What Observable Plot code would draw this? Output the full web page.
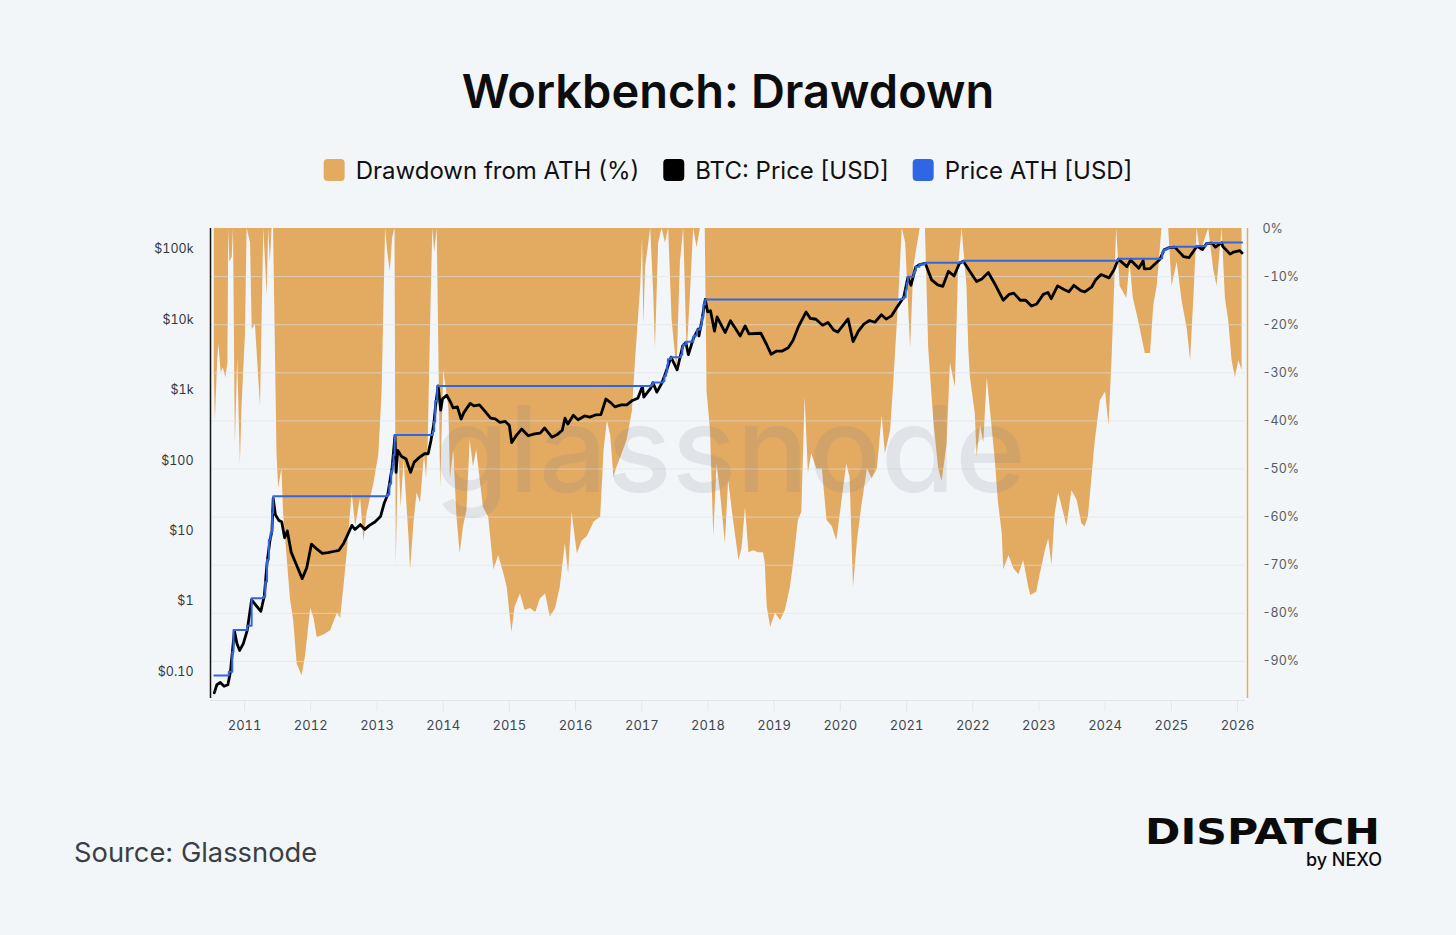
<!DOCTYPE html>
<html>
<head>
<meta charset="utf-8">
<script src="https://cdn.jsdelivr.net/npm/d3@7"></script>
<script src="https://cdn.jsdelivr.net/npm/@observablehq/plot@0.6"></script>
<style>
  html, body { margin: 0; padding: 0; background: #f3f6f9; }
  #page { position: relative; width: 1456px; height: 935px; background: #f3f6f9; overflow: hidden; font-family: Inter, "Noto Sans", sans-serif; }
  #deco { position: absolute; left: 0; top: 0; }
  .plotlayer { position: absolute; left: 0; top: 200px; }
</style>
</head>
<body>
<div id="page">
  <svg id="deco" width="1456" height="935"></svg>
  <div id="ddLayer" class="plotlayer"></div>
  <div id="priceLayer" class="plotlayer"></div>
</div>
<script>
// ---------------- DATA ----------------
const chartTitle = "Workbench: Drawdown";
const legendLabels = ["Drawdown from ATH (%)", "BTC: Price [USD]", "Price ATH [USD]"];
const legendColors = ["#e3aa62", "#000000", "#2f66e3"];
const sourceText = "Source: Glassnode";

const yearTicks = [2011,2012,2013,2014,2015,2016,2017,2018,2019,2020,2021,2022,2023,2024,2025,2026];
const priceTicks = [0.1, 1, 10, 100, 1000, 10000, 100000];
const pctTicks = [0, -10, -20, -30, -40, -50, -60, -70, -80, -90];

// BTC price [USD]
const priceDates = [
"2010-07-18","2010-08-01","2010-08-20","2010-09-10","2010-10-01","2010-10-15","2010-11-06","2010-11-20","2010-12-05","2010-12-25",
"2011-01-15","2011-02-09","2011-03-01","2011-04-01","2011-04-20","2011-05-05","2011-05-20","2011-06-01","2011-06-08","2011-06-20",
"2011-07-10","2011-07-25","2011-08-10","2011-08-25","2011-09-15","2011-10-10","2011-11-15","2011-12-10","2012-01-05","2012-02-05",
"2012-03-05","2012-04-05","2012-05-05","2012-06-05","2012-07-01","2012-07-20","2012-08-15","2012-09-01","2012-10-01","2012-10-25",
"2012-11-20","2012-12-20","2013-01-20","2013-02-10","2013-03-01","2013-03-25","2013-04-10","2013-04-16","2013-04-25","2013-05-15",
"2013-06-10","2013-07-05","2013-07-25","2013-08-20","2013-09-20","2013-10-10","2013-10-25","2013-11-10","2013-11-20","2013-12-04",
"2013-12-18","2013-12-28","2014-01-20","2014-02-10","2014-02-25","2014-03-20","2014-04-10","2014-04-25","2014-05-30","2014-06-20",
"2014-07-20","2014-08-20","2014-09-20","2014-10-15","2014-11-10","2014-12-10","2015-01-01","2015-01-14","2015-02-10","2015-03-10",
"2015-04-15","2015-05-20","2015-06-20","2015-07-15","2015-08-24","2015-09-20","2015-10-20","2015-11-04","2015-11-20","2015-12-20",
"2016-01-15","2016-02-20","2016-03-20","2016-04-20","2016-05-20","2016-06-17","2016-07-15","2016-08-05","2016-09-10","2016-10-10",
"2016-11-10","2016-12-10","2017-01-04","2017-01-12","2017-02-20","2017-03-03","2017-03-25","2017-04-20","2017-05-20","2017-06-11",
"2017-07-15","2017-08-15","2017-09-01","2017-09-15","2017-10-12","2017-11-08","2017-11-12","2017-11-28","2017-12-17","2017-12-30",
"2018-01-15","2018-02-06","2018-02-20","2018-04-06","2018-05-05","2018-06-28","2018-07-25","2018-08-15","2018-09-20","2018-10-20",
"2018-11-20","2018-12-15","2019-01-15","2019-02-15","2019-03-20","2019-04-15","2019-05-15","2019-06-26","2019-07-20","2019-08-20",
"2019-09-25","2019-10-25","2019-11-25","2019-12-18","2020-02-13","2020-03-12","2020-04-10","2020-05-10","2020-06-10","2020-07-10",
"2020-08-15","2020-09-10","2020-10-10","2020-11-10","2020-12-16","2021-01-08","2021-01-25","2021-02-20","2021-03-13","2021-04-14",
"2021-05-19","2021-06-22","2021-07-20","2021-08-20","2021-09-20","2021-10-20","2021-11-10","2021-12-20","2022-01-22","2022-02-20",
"2022-03-28","2022-05-10","2022-06-18","2022-07-20","2022-08-15","2022-09-20","2022-10-20","2022-11-21","2022-12-20","2023-01-25",
"2023-02-20","2023-03-10","2023-04-14","2023-05-20","2023-06-15","2023-07-13","2023-08-20","2023-09-11","2023-10-20","2023-11-10",
"2023-12-10","2024-01-23","2024-02-20","2024-03-14","2024-05-01","2024-05-21","2024-07-05","2024-07-29","2024-08-05","2024-09-06",
"2024-10-29","2024-11-22","2024-12-17","2025-01-20","2025-02-25","2025-03-10","2025-04-08","2025-05-22","2025-06-22","2025-07-14",
"2025-08-14","2025-09-01","2025-10-06","2025-10-11","2025-11-21","2025-12-10","2026-01-14","2026-01-26"
];
const priceValues = [
0.05,0.065,0.07,0.062,0.065,0.10,0.38,0.25,0.20,0.25,
0.38,1.05,0.9,0.72,1.2,3.5,7,10,29,17,
14,13.5,8,10,5,3.5,2.1,3,6.5,5.5,
4.8,4.9,5.1,5.3,6.7,8.5,12,10.5,12.3,10.5,
12,13.4,16,25,33,80,227,68,140,115,
105,68,95,110,125,125,190,330,600,1150,
520,750,850,680,560,580,390,480,650,600,
620,500,400,390,350,360,315,180,230,280,
225,240,245,290,215,232,270,400,330,440,
380,430,415,445,450,750,660,580,620,620,
715,770,1130,800,1080,1280,940,1240,2000,2950,
1950,4300,4750,3200,5400,7400,5900,9700,19500,13000,
13500,6900,11000,6600,9700,5900,8200,6300,6400,6450,
4500,3250,3600,3600,4000,5100,8000,12900,10500,10200,
8400,9200,7200,6700,10300,4900,6900,8700,9800,9250,
11800,10300,11400,15300,21000,40000,31000,56000,61000,63500,
37000,31500,30000,49000,42000,64000,68000,47000,35000,38000,
47000,30000,19000,23000,24000,19000,19000,15700,16800,23000,
24500,20000,30400,27000,25000,31000,26000,25000,29500,37000,
44000,39500,52000,73000,57000,71000,54000,69000,53000,53500,
72000,99000,106000,108000,86000,79000,76500,111000,100000,122000,
123500,108000,125000,111000,86000,92000,96000,89000
];

// Price ATH [USD] (stepped)
const athDates = [
"2010-07-18","2010-10-06","2010-10-25","2010-11-01","2011-01-15","2011-02-09","2011-04-15","2011-04-25","2011-05-05","2011-05-15",
"2011-05-25","2011-06-02","2011-06-08","2013-02-20","2013-02-28","2013-03-10","2013-03-20","2013-03-28","2013-04-02","2013-04-08",
"2013-04-10","2013-11-05","2013-11-12","2013-11-18","2013-11-29","2017-02-23","2017-03-03","2017-04-28","2017-05-05","2017-05-15",
"2017-05-21","2017-05-25","2017-06-11","2017-08-05","2017-08-12","2017-08-17","2017-09-01","2017-10-12","2017-10-20","2017-11-02",
"2017-11-20","2017-11-26","2017-11-29","2017-12-07","2017-12-17","2020-11-30","2020-12-16","2020-12-27","2021-01-02","2021-01-08",
"2021-02-09","2021-02-16","2021-02-21","2021-03-13","2021-04-14","2021-10-20","2021-11-10","2024-03-05","2024-03-11","2024-03-14",
"2024-11-06","2024-11-11","2024-11-13","2024-11-22","2024-12-05","2024-12-17","2025-01-20","2025-05-22","2025-07-10","2025-07-14",
"2025-08-14","2025-10-06","2026-01-26"
];
const athValues = [
0.088,0.10,0.19,0.39,0.45,1.1,1.15,1.9,3.9,7.5,
9.5,18,31,31,33,47,71,92,120,190,
230,260,360,700,1150,1200,1290,1340,1600,1800,
2300,2750,2950,3200,4000,4450,4900,5800,6000,7300,
8200,9300,11000,16500,19500,19800,21000,27000,33000,41000,
47000,50000,57000,61500,64800,66000,69000,69200,72000,73700,
75000,88000,93000,99000,103000,108000,109000,112000,116000,123000,
124000,126000,126000
];

// Drawdown from ATH (%)
const ddDates = [
"2010-07-18","2010-07-24","2010-08-05","2010-08-12","2010-08-25","2010-09-05","2010-09-20","2010-10-01","2010-10-06","2010-10-12",
"2010-10-25","2010-11-01","2010-11-11","2010-11-24","2010-12-09","2010-12-18","2011-01-06","2011-01-15","2011-02-03","2011-02-12",
"2011-03-02","2011-03-21","2011-03-30","2011-04-17","2011-05-06","2011-05-14","2011-05-23","2011-06-02","2011-06-10","2011-06-29",
"2011-07-08","2011-07-26","2011-08-04","2011-08-23","2011-09-11","2011-09-29","2011-10-18","2011-11-14","2011-12-03","2012-01-01",
"2012-01-19","2012-02-06","2012-03-14","2012-04-20","2012-05-27","2012-06-14","2012-07-02","2012-07-20","2012-08-08","2012-08-17",
"2012-09-05","2012-10-02","2012-10-21","2012-11-08","2012-12-15","2013-01-11","2013-01-29","2013-02-17","2013-03-01","2013-03-15",
"2013-03-28","2013-04-10","2013-04-17","2013-04-30","2013-05-14","2013-05-30","2013-06-26","2013-07-05","2013-07-24","2013-08-10",
"2013-08-29","2013-09-20","2013-10-01","2013-10-10","2013-10-28","2013-11-05","2013-11-15","2013-11-29","2013-12-18","2014-01-04",
"2014-02-01","2014-02-10","2014-02-28","2014-03-18","2014-04-05","2014-04-23","2014-05-12","2014-05-30","2014-06-17","2014-07-05",
"2014-08-11","2014-09-09","2014-10-08","2014-11-03","2014-12-02","2014-12-20","2015-01-15","2015-02-02","2015-03-03","2015-03-29",
"2015-04-27","2015-05-27","2015-06-21","2015-07-20","2015-08-15","2015-09-13","2015-10-09","2015-11-06","2015-11-24","2015-12-13",
"2016-01-11","2016-02-06","2016-03-07","2016-04-13","2016-05-19","2016-06-07","2016-06-25","2016-07-13","2016-07-31","2016-08-18",
"2016-09-13","2016-10-12","2016-11-10","2016-11-28","2016-12-26","2017-01-05","2017-01-12","2017-01-22","2017-02-19","2017-03-08",
"2017-03-17","2017-04-04","2017-04-23","2017-05-11","2017-05-29","2017-06-17","2017-07-14","2017-08-02","2017-08-20","2017-09-08",
"2017-09-26","2017-10-14","2017-11-02","2017-11-20","2017-12-17","2017-12-27","2018-01-15","2018-02-02","2018-02-20","2018-03-10",
"2018-04-07","2018-04-25","2018-05-22","2018-06-21","2018-07-08","2018-07-27","2018-08-15","2018-09-09","2018-10-08","2018-11-03",
"2018-11-13","2018-11-24","2018-12-13","2019-01-08","2019-02-06","2019-03-04","2019-04-01","2019-04-19","2019-05-15","2019-06-03",
"2019-06-21","2019-07-09","2019-07-27","2019-08-25","2019-09-24","2019-10-20","2019-11-18","2019-12-13","2020-01-11","2020-02-06",
"2020-02-24","2020-03-14","2020-04-05","2020-05-01","2020-05-30","2020-06-25","2020-07-24","2020-08-19","2020-09-06","2020-10-05",
"2020-10-23","2020-11-19","2020-12-08","2020-12-27","2021-01-23","2021-02-10","2021-03-17","2021-04-15","2021-05-03","2021-05-31",
"2021-06-27","2021-07-16","2021-08-12","2021-08-31","2021-09-27","2021-10-15","2021-11-03","2021-11-30","2021-12-10","2021-12-19",
"2022-01-15","2022-01-25","2022-02-13","2022-03-03","2022-03-22","2022-04-17","2022-05-05","2022-05-23","2022-06-13","2022-06-21",
"2022-07-20","2022-08-15","2022-09-13","2022-10-09","2022-11-06","2022-11-17","2022-12-20","2023-01-08","2023-02-06","2023-02-24",
"2023-03-14","2023-04-01","2023-04-20","2023-05-19","2023-06-05","2023-07-02","2023-07-31","2023-08-26","2023-09-13","2023-10-01",
"2023-10-23","2023-11-07","2023-12-06","2024-01-04","2024-01-23","2024-02-10","2024-02-26","2024-03-05","2024-03-24","2024-04-30",
"2024-05-18","2024-06-05","2024-07-03","2024-08-10","2024-09-08","2024-09-26","2024-10-15","2024-11-10","2024-12-17","2025-01-05",
"2025-02-02","2025-03-01","2025-03-30","2025-04-17","2025-05-05","2025-05-23","2025-06-11","2025-06-29","2025-07-26","2025-08-23",
"2025-09-10","2025-10-08","2025-10-26","2025-11-13","2025-12-02","2025-12-20","2026-01-08","2026-01-26"
];
const ddValues = [
-30,-40,-28,-24,-30,-29,-31,-28,0,-7,
-6,0,-45,-27,-49,-37,-22,0,-3,-21,
-20,-31.6,-37,0,-14,0,-7,0,0,-47,
-54,-50,-59,-68,-77,-81.5,-90.5,-93,-89,-79,
-81,-85,-84.5,-83.6,-80,-81,-74.6,-67.6,-59,-55,
-62,-56,-65,-59,-53,-47,-34,0,-5,-9,
-2,0,-70,-45,-58,-48,-64,-71,-61,-55,
-57,-47,-52,-45,-12,0,-5,0,-54,-29.5,
-37,-52,-46,-60,-67.6,-62,-58.6,-44,-49.6,-46,
-58,-60,-71,-68,-71.8,-74.6,-84,-78.7,-76,-79.4,
-79,-79.8,-77,-76,-80.8,-79,-74.6,-65.5,-71.8,-59,
-67.6,-65,-64,-61,-60,-46,-40,-43,-51.7,-49.6,
-47,-44,-38,-27,-12,-2,-20,-8,0,-14,
-25,-3,0,-3,0,-19,-29.5,-7,0,-26,
-14,0,-4,0,0,-34,-42,-64,-49,-54.5,
-65.5,-52.4,-60.7,-69,-66.5,-58,-67.4,-67,-67.4,-67.4,
-69.5,-78.7,-82.9,-80,-81.5,-79.4,-74.6,-69.5,-60.7,-59,
-35,-51,-46.8,-50,-50,-60.7,-62,-64.9,-56.5,-49,
-51.7,-74.6,-64.9,-57.2,-50,-52,-50,-39,-46.8,-42,
-31.6,-14.5,0,-3,-25,-8,0,0,-25,-40,
-50,-52.6,-45,-28,-33,-8,0,-12,-25,-31,
-38.5,-47.5,-41,-44.6,-31,-41,-48,-57,-63.5,-71,
-68,-70.7,-72,-69,-74.6,-76.3,-75.6,-72,-67,-64.5,
-70,-59.3,-55,-59.3,-62,-54.5,-56.5,-61.4,-62,-60,
-51,-44.6,-35.8,-34,-41,-26,-8.7,0,-12,-14.5,
-7,-14.5,-19,-26,-26,-16,-12,0,0,-12,
-7,-15,-21,-27.5,-14.5,0,-5,-3,0,-8.7,
-12,0,-14.5,-19,-27.5,-31,-27.5,-29.5
];

// ---------------- BUILD ----------------
const price = priceDates.map((d, i) => ({date: new Date(d), value: priceValues[i]}));
const ath = athDates.map((d, i) => ({date: new Date(d), value: athValues[i]}));
const dd = ddDates.map((d, i) => ({date: new Date(d), value: ddValues[i]}));
const years = yearTicks.map(y => new Date(Date.UTC(y, 0, 1)));

const xDomain = [new Date("2010-06-27"), new Date("2026-02-14")];
const yPctMin = -97.7;
const common = {width: 1456, height: 540, marginLeft: 210, marginRight: 211, marginTop: 28, marginBottom: 42};
const baseStyle = {background: "transparent", fontFamily: "Inter, 'Noto Sans', sans-serif", fontSize: "12.5px", overflow: "visible"};

const fmtPrice = v => v < 1 ? "$0.10" : v >= 1000 ? "$" + (v / 1000) + "k" : "$" + v;

const ddPlot = Plot.plot({
  ...common,
  style: {...baseStyle, color: "#555b62"},
  x: {type: "utc", domain: xDomain},
  y: {domain: [yPctMin, 0]},
  marks: [
    Plot.areaY(dd, {x: "date", y1: 0, y2: "value", fill: legendColors[0]}),
    Plot.ruleY(pctTicks.filter(v => v !== 0), {stroke: "#dde2e8", strokeOpacity: 0.6}),
    Plot.text(["glassnode"], {frameAnchor: "middle", fontSize: 120, fontWeight: 500, fill: "#7d838a", fillOpacity: 0.16, dx: 2, dy: -10, fontFamily: "Inter, sans-serif"}),
    Plot.axisY(pctTicks, {anchor: "right", label: null, tickSize: 0, tickPadding: 17, tickFormat: d => d + "%", textAnchor: "start", fill: "#555b62"}),
    Plot.ruleX([xDomain[1]], {stroke: legendColors[0], strokeWidth: 1.5, dx: 2}),
    Plot.ruleY([yPctMin], {stroke: "#e2e6eb", dy: 2}),
    Plot.axisX(years, {label: null, tickSize: 11, tickFormat: () => "", stroke: "#e2e6eb", dy: 2}),
    Plot.axisX(years, {label: null, tickSize: 0, tickPadding: 22, tickFormat: "%Y", fill: "#41464c", fontSize: 13})
  ]
});
document.getElementById("ddLayer").appendChild(ddPlot);

const pricePlot = Plot.plot({
  ...common,
  style: {...baseStyle, color: "#33373c"},
  x: {type: "utc", domain: xDomain, axis: null},
  y: {type: "log", domain: [0.0415, 198800]},
  marks: [
    Plot.axisY(priceTicks, {anchor: "left", label: null, tickSize: 0, tickPadding: 17, tickFormat: fmtPrice, fill: "#33373c"}),
    Plot.ruleX([xDomain[0]], {stroke: "#111", strokeWidth: 1.5}),
    Plot.line(price, {x: "date", y: "value", stroke: legendColors[1], strokeWidth: 2.8}),
    Plot.line(ath, {x: "date", y: "value", stroke: legendColors[2], strokeWidth: 2, curve: "step-after"})
  ]
});
document.getElementById("priceLayer").appendChild(pricePlot);

// ---------------- TITLE, LEGEND, FOOTER ----------------
const deco = d3.select("#deco");
deco.append("text").attr("x", 728).attr("y", 108).attr("text-anchor", "middle")
  .attr("font-family", "Inter, sans-serif").attr("font-size", 47).attr("font-weight", 600)
  .attr("fill", "#0d0d0d").text(chartTitle);

const lg = deco.append("g");
let xpos = 0;
legendLabels.forEach((lab, i) => {
  const g = lg.append("g").attr("transform", `translate(${xpos},0)`);
  g.append("rect").attr("x", 0).attr("y", 159).attr("width", 21).attr("height", 22).attr("rx", 4).attr("fill", legendColors[i]);
  const t = g.append("text").attr("x", 32).attr("y", 179).attr("font-family", "Inter, sans-serif")
    .attr("font-size", 24).attr("fill", "#111").text(lab);
  const w = t.node().getComputedTextLength();
  xpos += 32 + w + 24;
});
const totalW = xpos - 24;
lg.attr("transform", `translate(${728 - totalW / 2},0)`);

deco.append("text").attr("x", 74).attr("y", 862).attr("font-family", "Inter, sans-serif")
  .attr("font-size", 27.3).attr("fill", "#3a3f45").text(sourceText);

deco.append("text").attr("x", 1145).attr("y", 844).attr("font-family", "'DejaVu Sans', sans-serif")
  .attr("font-size", 35).attr("font-weight", 700).attr("fill", "#0b0b0b")
  .attr("textLength", 235).attr("lengthAdjust", "spacingAndGlyphs").text("DISPATCH");
deco.append("text").attr("x", 1382).attr("y", 866).attr("text-anchor", "end").attr("font-family", "Inter, sans-serif")
  .attr("font-size", 18).attr("font-weight", 500).attr("fill", "#0b0b0b").text("by NEXO");
</script>
</body>
</html>
